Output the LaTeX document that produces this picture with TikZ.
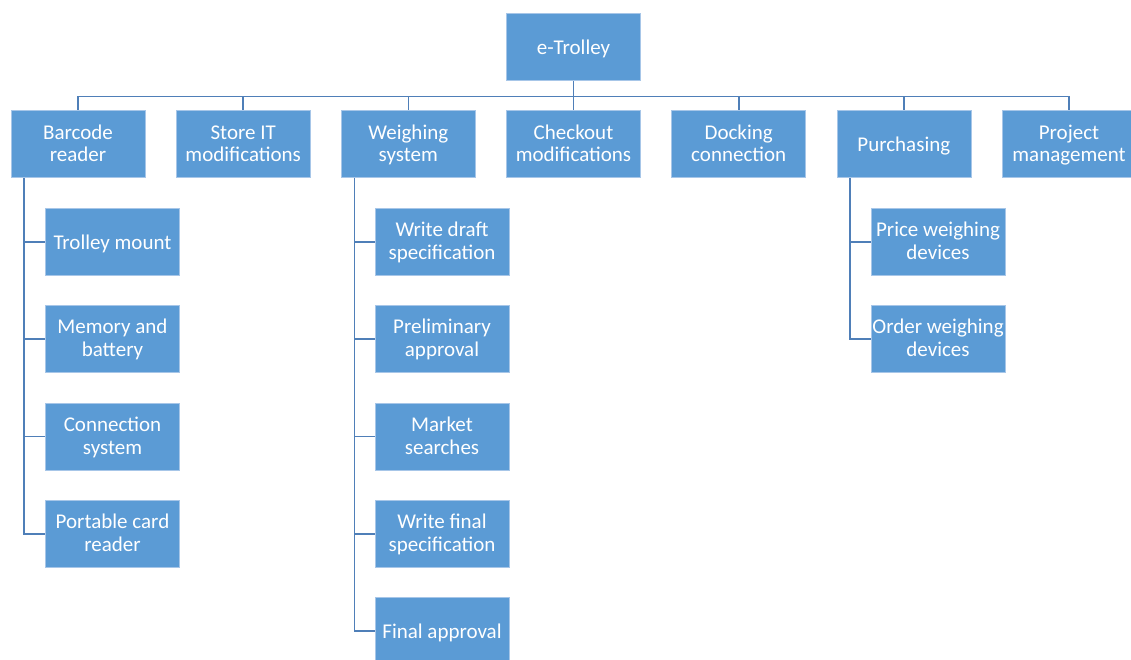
\documentclass[tikz,border=0pt]{standalone}
\usepackage{fontspec}
\setmainfont{Carlito}
\usetikzlibrary{calc}
\definecolor{boxblue}{HTML}{5B9BD5}
\definecolor{boxedge}{HTML}{A7C6E8}
\definecolor{linkblue}{HTML}{4F7FB8}
\newcommand{\one}[1]{\rule{0pt}{21.5pt}#1\rule[-6.9pt]{0pt}{6.9pt}}
\newcommand{\two}[2]{\rule{0pt}{19.5pt}#1\\#2\rule[-6.9pt]{0pt}{6.9pt}}
\tikzset{
  box/.style={rectangle, fill=boxblue, draw=boxedge, line width=0.6pt,
    minimum width=134pt, minimum height=67pt, inner sep=0pt, align=center,
    text=white, font=\fontsize{21}{22.7}\selectfont},
  link/.style={draw=linkblue, line width=1.6pt}
}
\begin{document}
\begin{tikzpicture}[x=1pt,y=-1pt]
\useasboundingbox (0,0) rectangle (1131,659);
\clip (0,0) rectangle (1131,659);
% root
\node[box] (root) at (573.5,47.2) {\one{e-Trolley}};
% level 2
\node[box] (bar) at (78,144.2) {\two{Barcode}{reader}};
\node[box] (sit) at (243.2,144.2) {\two{Store IT}{modifications}};
\node[box] (wei) at (408.3,144.2) {\two{Weighing}{system}};
\node[box] (chk) at (573.5,144.2) {\two{Checkout}{modifications}};
\node[box] (doc) at (738.7,144.2) {\two{Docking}{connection}};
\node[box] (pur) at (903.8,144.2) {\one{Purchasing}};
\node[box] (prj) at (1069,144.2) {\two{Project}{management}};
% barcode children
\node[box] (b1) at (112.5,241.7) {\one{Trolley mount}};
\node[box] (b2) at (112.5,338.8) {\two{Memory and}{battery}};
\node[box] (b3) at (112.5,436.6) {\two{Connection}{system}};
\node[box] (b4) at (112.5,533.9) {\two{Portable card}{reader}};
% weighing children
\node[box] (w1) at (442,241.7) {\two{Write draft}{specification}};
\node[box] (w2) at (442,338.8) {\two{Preliminary}{approval}};
\node[box] (w3) at (442,436.6) {\two{Market}{searches}};
\node[box] (w4) at (442,533.9) {\two{Write final}{specification}};
\node[box] (w5) at (442,631.2) {\one{Final approval}};
% purchasing children
\node[box] (p1) at (938,241.7) {\two{Price weighing}{devices}};
\node[box] (p2) at (938,338.8) {\two{Order weighing}{devices}};
% connectors root -> level 2
\foreach \n in {bar,sit,wei,chk,doc,pur,prj}{
  \draw[link] (root.south) -- ($(root.south)+(0,15.5)$) -| (\n.north);
}
% connectors level 2 -> children
\foreach \n in {b1,b2,b3,b4}{
  \draw[link] ($(bar.south west)+(13.5,0)$) |- (\n.west);
}
\foreach \n in {w1,w2,w3,w4,w5}{
  \draw[link] ($(wei.south west)+(13.5,0)$) |- (\n.west);
}
\foreach \n in {p1,p2}{
  \draw[link] ($(pur.south west)+(13.5,0)$) |- (\n.west);
}
\end{tikzpicture}
\end{document}
